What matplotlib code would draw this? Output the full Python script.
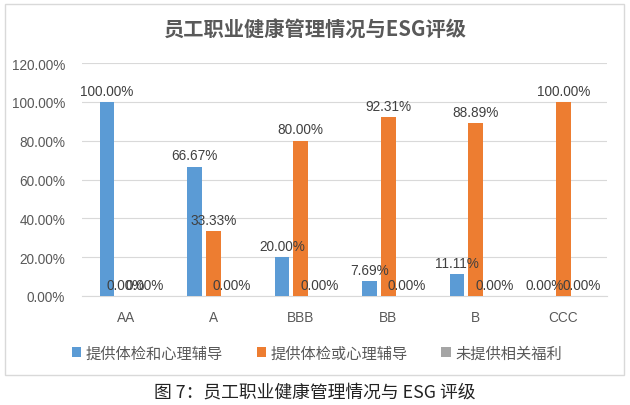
import matplotlib
matplotlib.use('Agg')
import matplotlib.pyplot as plt
from matplotlib.patches import Rectangle
import numpy as np

plt.rcParams['font.family'] = ['Liberation Sans', 'Noto Sans CJK SC', 'DejaVu Sans']

categories = ['AA', 'A', 'BBB', 'BB', 'B', 'CCC']
series_names = ['提供体检和心理辅导', '提供体检或心理辅导', '未提供相关福利']
both = [100.00, 66.67, 20.00, 7.69, 11.11, 0.00]
either = [0.00, 33.33, 80.00, 92.31, 88.89, 100.00]
none = [0.00, 0.00, 0.00, 0.00, 0.00, 0.00]
colors = ['#5B9BD5', '#ED7D31', '#A5A5A5']
yticks = [0, 20, 40, 60, 80, 100, 120]

W, H = 630, 406
fig = plt.figure(figsize=(W / 100, H / 100), dpi=100)
ax = fig.add_axes([82 / W, (H - 297) / H, (607 - 82) / W, (297 - 64) / H])

x = np.arange(len(categories))
bw = 0.166
step = 0.214
for i, (vals, name, c) in enumerate(zip([both, either, none], series_names, colors)):
    pos = x + (i - 1) * step
    ax.bar(pos, vals, width=bw, color=c, label=name, zorder=3)
    for p, v in zip(pos, vals):
        ax.annotate(f'{v:.2f}%', (p, v), xytext=(0, 3), textcoords='offset points',
                    ha='center', va='bottom', fontsize=9.8, color='#404040', zorder=4)

ax.set_xlim(-0.5, len(categories) - 0.5)
ax.set_ylim(0, 120)
ax.set_yticks(yticks)
ax.set_yticklabels([f'{t:.2f}%' for t in yticks])
ax.set_xticks(x)
ax.set_xticklabels(categories)
ax.tick_params(axis='both', length=0, labelsize=9.8, labelcolor='#595959')
ax.tick_params(axis='y', pad=12)
ax.tick_params(axis='x', pad=10)
ax.grid(axis='y', color='#D9D9D9', linewidth=0.8, zorder=0)
for s in ['top', 'right', 'left']:
    ax.spines[s].set_visible(False)
ax.spines['bottom'].set_color('#D9D9D9')
ax.spines['bottom'].set_linewidth(0.8)

fig.text(315 / W, 1 - 30 / H, '员工职业健康管理情况与ESG评级', ha='center', va='center',
         fontsize=14.6, fontweight='bold', color='#595959',
         family=['Noto Sans CJK SC', 'DejaVu Sans'])

leg = fig.legend(loc='center', bbox_to_anchor=(317 / W, 1 - 354 / H), ncol=3, frameon=False,
                 prop={'family': ['Noto Sans CJK SC', 'DejaVu Sans'], 'size': 11},
                 handlelength=0.6, handleheight=0.6, handletextpad=0.3, columnspacing=2.2)
for t in leg.get_texts():
    t.set_color('#595959')

fig.patches.append(Rectangle((5 / W, (H - 376) / H), 619 / W, 371 / H,
                             transform=fig.transFigure, fill=False, ec='#D9D9D9', lw=1))

fig.text(315 / W, 1 - 393 / H, '图 7：员工职业健康管理情况与 ESG 评级', ha='center', va='center',
         fontsize=12.8, color='#222222', family=['Noto Sans CJK SC', 'DejaVu Sans'])

fig.savefig('out.png', dpi=100)
